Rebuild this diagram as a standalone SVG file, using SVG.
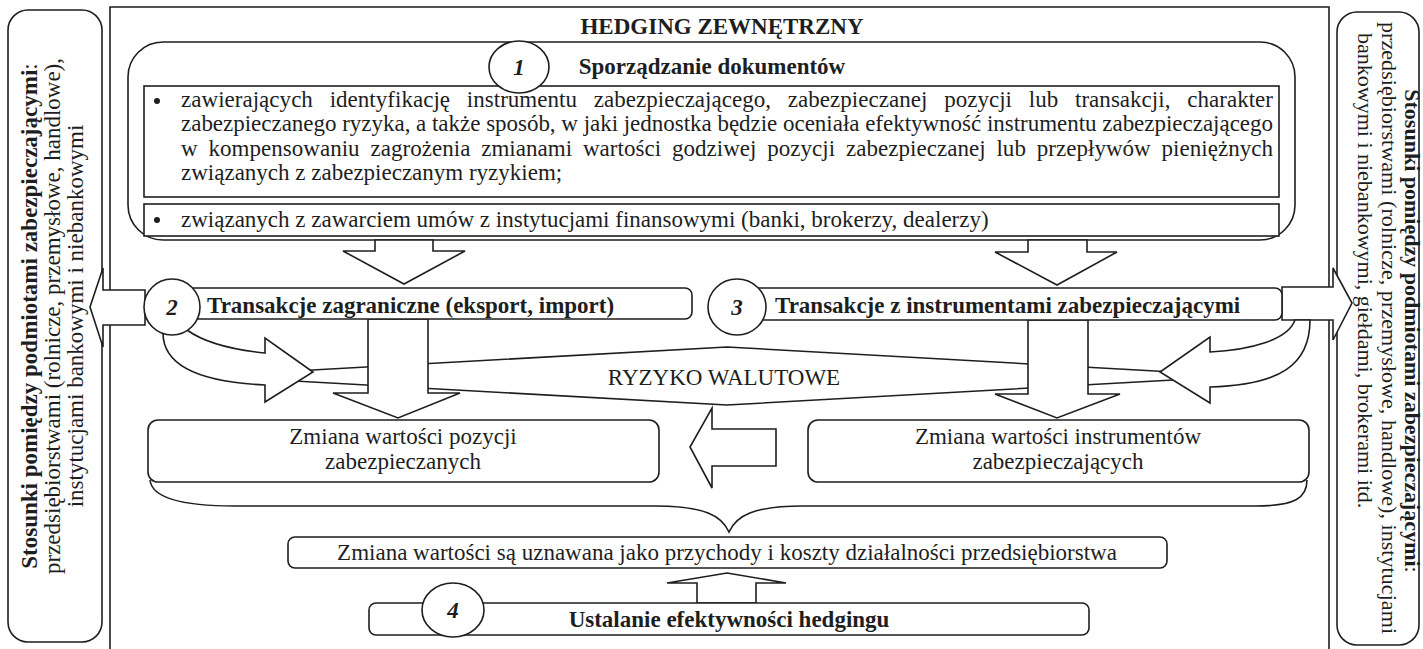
<svg xmlns="http://www.w3.org/2000/svg" width="1423" height="649" viewBox="0 0 1423 649">
<style>
.ln{fill:#fff;stroke:#1e1e1e;stroke-width:1.6}
.nf{fill:none;stroke:#1e1e1e;stroke-width:1.6}
.t{font-family:"Liberation Serif","Times New Roman",serif;font-size:23px;fill:#1e1e1e}
.s{font-size:22px}
.b{font-weight:bold}
.c{text-anchor:middle}
.num{font-style:italic;font-weight:bold;text-anchor:middle}
</style>
<rect width="1423" height="649" fill="#fff"/>
<g id="frame">
<path class="nf" d="M110,655 V7 H1329 V655"/>
<text class="t b c" x="722" y="34">HEDGING ZEWNĘTRZNY</text>
</g>
<g id="left-box">
<rect class="ln" x="8" y="10" width="94" height="632" rx="20"/>
<text class="t c" transform="translate(37,316) rotate(-90)"><tspan class="b">Stosunki pomiędzy podmiotami zabezpieczającymi</tspan>:</text>
<text class="t c" transform="translate(60,316) rotate(-90)">przedsiębiorstwami (rolnicze, przemysłowe, handlowe),</text>
<text class="t c" transform="translate(83,316) rotate(-90)">instytucjami bankowymi i niebankowymi</text>
</g>
<g id="right-box">
<rect class="ln" x="1337" y="12" width="82" height="633" rx="20"/>
<text class="t s c" transform="translate(1405,331) rotate(90)"><tspan class="b">Stosunki pomiędzy podmiotami zabezpieczającymi</tspan>:</text>
<text class="t s" transform="translate(1382,22) rotate(90)" textLength="612" lengthAdjust="spacing">przedsiębiorstwami (rolnicze, przemysłowe, handlowe), instytucjami</text>
<text class="t s" transform="translate(1358,33) rotate(90)">bankowymi i niebankowymi, giełdami, brokerami itd.</text>
</g>
<g id="node1">
<rect class="ln" x="128" y="42" width="1167" height="198" rx="35"/>
<text class="t b c" x="712" y="74">Sporządzanie dokumentów</text>
<rect class="ln" x="144" y="86" width="1135" height="111"/>
<circle cx="157" cy="101" r="3" fill="#1e1e1e"/>
<text class="t" x="181" y="107" textLength="1092" lengthAdjust="spacing" word-spacing="11">zawierających identyfikację instrumentu zabezpieczającego, zabezpieczanej pozycji lub transakcji, charakter</text>
<text class="t" x="181" y="131" textLength="1092" lengthAdjust="spacing">zabezpieczanego ryzyka, a także sposób, w jaki jednostka będzie oceniała efektywność instrumentu zabezpieczającego</text>
<text class="t" x="181" y="156" textLength="1092" lengthAdjust="spacing" word-spacing="5">w kompensowaniu zagrożenia zmianami wartości godziwej pozycji zabezpieczanej lub przepływów pieniężnych</text>
<text class="t" x="181" y="180">związanych z zabezpieczanym ryzykiem;</text>
<rect class="ln" x="144" y="204" width="1135" height="32"/>
<circle cx="157" cy="220" r="3" fill="#1e1e1e"/>
<text class="t" x="181" y="227">związanych z zawarciem umów z instytucjami finansowymi (banki, brokerzy, dealerzy)</text>
<ellipse class="ln" cx="519" cy="67" rx="30" ry="26"/>
<text class="t num" x="519" y="75">1</text>
</g>
<g id="risk">
<path class="ln" d="M205,376 L727,347 L1245,376 L727,405 Z"/>
<text class="t c" x="724" y="385">RYZYKO WALUTOWE</text>
</g>
<g id="connectors">
<path class="ln" d="M375,240 V251 H343 L404,284 L465,251 H433 V240 Z"/>
<path class="ln" d="M1028,240 V252 H995 L1057,285 L1117,252 H1087 V240 Z"/>
<path class="ln" d="M368,319 V393 H333 L398,418 L460,393 H428 V319 Z"/>
<path class="ln" d="M1028,320 V394 H995 L1057,418 L1120,394 H1088 V320 Z"/>
<path class="ln" d="M187,330 C205,343 235,350 265,353 L265,338 L313,372 L265,402 L265,385 C200,382 163,366 163,333 Z"/>
<path class="ln" d="M1282,287 H1333 V268 L1352,303 L1333,340 V320 H1282 Z"/>
<path class="ln" d="M1295,320 C1288,340 1250,350 1210,352 L1210,337 L1160,372 L1210,403 L1210,387 C1280,385 1310,365 1310,320 Z"/>
<path class="ln" d="M145,290 H103 V268 L90,307 L103,347 V325 H145 Z"/>
<path class="ln" d="M776,429 H712 V408 L690,447 L712,488 V466 H776 Z"/>
<path class="nf" d="M150,480 C152,500 190,506 235,506 L655,506 C705,506 722,516 729,532 C736,516 753,506 803,506 L1255,506 C1295,506 1307,498 1307,480"/>
<path class="ln" d="M697,603 V583 H667 L727,573 L786,583 H756 V603 Z"/>
</g>
<g id="node2">
<rect class="ln" x="172" y="288" width="520" height="31" rx="7"/>
<text class="t b" x="207" y="313">Transakcje zagraniczne (eksport, import)</text>
<ellipse class="ln" cx="172" cy="307" rx="28" ry="28"/>
<text class="t num" x="172" y="315">2</text>
</g>
<g id="node3">
<rect class="ln" x="737" y="288" width="545" height="32" rx="7"/>
<text class="t b" x="775" y="313">Transakcje z instrumentami zabezpieczającymi</text>
<ellipse class="ln" cx="737" cy="307" rx="29" ry="28"/>
<text class="t num" x="737" y="315">3</text>
</g>
<g id="hedged-change">
<rect class="ln" x="148" y="420" width="511" height="62" rx="10"/>
<text class="t c" x="403" y="444">Zmiana wartości pozycji</text>
<text class="t c" x="403" y="469">zabezpieczanych</text>
</g>
<g id="instrument-change">
<rect class="ln" x="808" y="420" width="501" height="62" rx="10"/>
<text class="t c" x="1058" y="444">Zmiana wartości instrumentów</text>
<text class="t c" x="1058" y="469">zabezpieczających</text>
</g>
<g id="result">
<rect class="ln" x="288" y="537" width="879" height="31" rx="7"/>
<text class="t c" x="727" y="560">Zmiana wartości są uznawana jako przychody i koszty działalności przedsiębiorstwa</text>
</g>
<g id="node4">
<rect class="ln" x="369" y="603" width="720" height="32" rx="7"/>
<text class="t b c" x="729" y="627">Ustalanie efektywności hedgingu</text>
<ellipse class="ln" cx="453" cy="610" rx="31" ry="27"/>
<text class="t num" x="453" y="618">4</text>
</g>
</svg>
